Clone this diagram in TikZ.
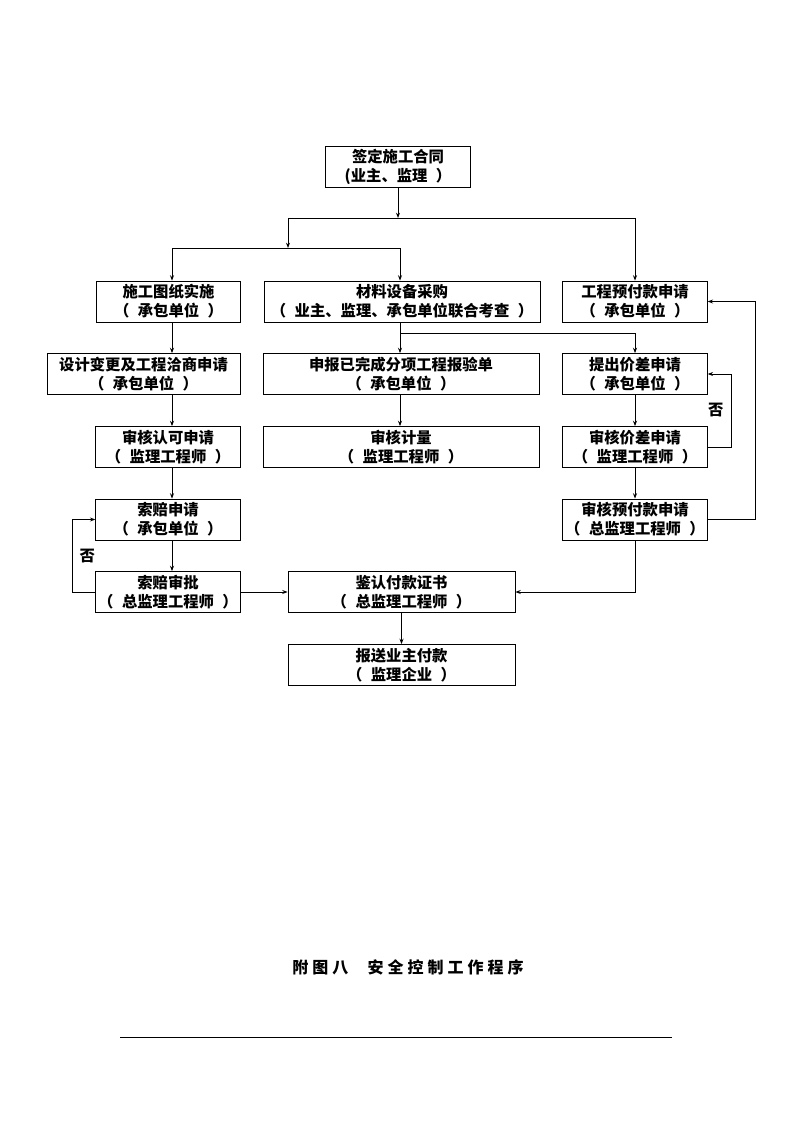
\documentclass[tikz,border=0pt]{standalone}
\usepackage{fontspec}
\setmainfont{Noto Sans CJK SC}
\newfontfamily\capfont[LetterSpace=25]{Noto Sans CJK SC}
\usetikzlibrary{arrows.meta}
\newcommand{\lpar}{（\hspace{0.55em}}
\newcommand{\rpar}{\hspace{0.55em}）}

\begin{document}
\begin{tikzpicture}
	[x=0.75pt,y=-0.75pt,>={Stealth[length=4pt,width=3pt]},line width=0.6pt,
		box/.style={draw,rectangle,align=center,inner sep=0pt,minimum height=30.75pt,
			minimum width=108.5pt,font=\fontsize{11.5pt}{14.25pt}\selectfont\bfseries},
		wide box/.style={box,minimum width=207pt},
		pay box/.style={box,minimum width=170.25pt},
		no label/.style={font=\fontsize{11.5pt}{14pt}\selectfont\bfseries}]

	\useasboundingbox (0,0) rectangle (794,1123);

	\node[box]  (contract)  at (398,166.5)   {签定施工合同\\(业主、监理\rpar};
	\node[box]  (drawings)  at (168.5,301.5) {施工图纸实施\\\lpar 承包单位\rpar};
	\node[wide box]  (purchase)  at (402,301.5) {材料设备采购\\\lpar 业主、监理、承包单位联合考查\rpar};
	\node[box]  (advance)   at (635,301.5)   {工程预付款申请\\\lpar 承包单位\rpar};

	\node[box,minimum width=144.75pt]  (change)  at (143.5,374) {设计变更及工程洽商申请\\\lpar 承包单位\rpar};
	\node[wide box]  (report)  at (401,374)   {申报已完成分项工程报验单\\\lpar 承包单位\rpar};
	\node[box]  (diff)      at (635,374)     {提出价差申请\\\lpar 承包单位\rpar};

	\node[box]  (approve)   at (168,447)     {审核认可申请\\\lpar 监理工程师\rpar};
	\node[wide box]  (measure) at (401,447)   {审核计量\\\lpar 监理工程师\rpar};
	\node[box]  (diffcheck) at (635,447)     {审核价差申请\\\lpar 监理工程师\rpar};

	\node[box]  (claim)     at (168,519.5)   {索赔申请\\\lpar 承包单位\rpar};
	\node[box]  (advcheck)  at (635,519.5)   {审核预付款申请\\\lpar 总监理工程师\rpar};

	\node[box]  (claimok)   at (168,592)     {索赔审批\\\lpar 总监理工程师\rpar};
	\node[pay box]  (cert)  at (401.5,592)   {鉴认付款证书\\\lpar 总监理工程师\rpar};
	\node[pay box]  (owner) at (401.5,665)   {报送业主付款\\\lpar 监理企业\rpar};

	% split points
	\coordinate (j1)  at (398,218);
	\coordinate (j1l) at (288,218);
	\coordinate (j1r) at (635,218);
	\coordinate (j2)  at (288,248);
	\coordinate (j2l) at (172,248);
	\coordinate (j2r) at (400,248);
	\coordinate (j3)  at (400,333);
	\coordinate (j3r) at (635,333);
	\coordinate (l1)  at (172,0);
	\coordinate (r1)  at (731,0);
	\coordinate (r2)  at (755,0);
	\coordinate (l2)  at (72,0);

	\draw[->] (contract) -- (j1);
	\draw (j1l) -- (j1r);
	\draw[->] (j1l) -- (j2);
	\draw[->] (j1r) -- (advance);
	\draw (j2l) -- (j2r);
	\draw[->] (j2l) -- (j2l |- drawings.north);
	\draw[->] (j2r) -- (j2r |- purchase.north);

	\draw[->] (l1 |- drawings.south) -- (l1 |- change.north);
	\draw[->] (l1 |- change.south) -- (l1 |- approve.north);
	\draw[->] (l1 |- approve.south) -- (l1 |- claim.north);
	\draw[->] (l1 |- claim.south) -- (l1 |- claimok.north);

	\draw[->] (j3 |- purchase.south) -- (j3 |- report.north);
	\draw (j3) -- (j3r);
	\draw[->] (j3r) -- (diff);
	\draw[->] (j3 |- report.south) -- (j3 |- measure.north);

	\draw[->] (diff) -- (diffcheck);
	\draw[->] (diffcheck) -- (advcheck);
	\draw[->] (diffcheck.east) -- (r1 |- diffcheck.east) -- (r1 |- diff.east)
		node[no label,midway,left=2pt] {否} -- (diff.east);
	\draw[->] (advcheck.east) -- (r2 |- advcheck.east) -- (r2 |- advance.east) -- (advance.east);

	\draw[->] (claimok.west) -- (l2 |- claimok.west) -- (l2 |- claim.west)
		node[no label,midway,right=2pt] {否} -- (claim.west);
	\draw[->] (claimok) -- (cert);
	\draw[->] (advcheck) |- (cert);
	\draw[->] (cert) -- (owner);

	\node[font=\capfont\bfseries\fontsize{12pt}{14pt}\selectfont] (caption) at (408,967) {附图八\hspace{1.2em}安全控制工作程序};
	\draw (120,1037) -- (672,1037);

\end{tikzpicture}
\end{document}
